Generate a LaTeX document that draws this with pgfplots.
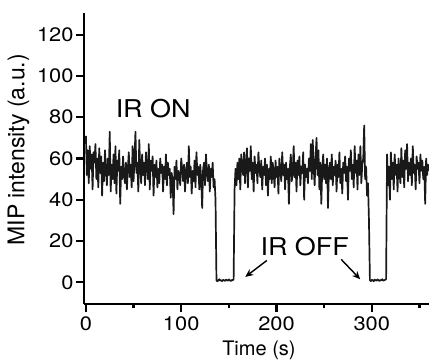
\documentclass[border=0pt]{standalone}
\usepackage{fontspec}
\setmainfont[FakeStretch=1.12]{TeX Gyre Heros}
\newfontfamily\plainsans{TeX Gyre Heros}
\newfontfamily\annsans[FakeStretch=1.1]{TeX Gyre Heros}
\newcommand{\tkfont}{\fontsize{19.5}{22}\selectfont}
\usepackage{pgfplots}
\pgfplotsset{compat=1.18}
\usetikzlibrary{arrows.meta}
\begin{document}
\begin{tikzpicture}
\begin{axis}[
 scale only axis, width=345pt, height=291pt,
 xmin=-2, xmax=360, ymin=-10.5, ymax=130.5,
 axis lines=left, axis line style={-, line width=2.4pt},
 xtick={0,100,200,300}, minor xtick={50,150,250,350},
 ytick={0,20,...,120},
 tick align=outside, major tick length=8pt, minor tick length=4.5pt,
 every tick/.append style={black, line width=2.2pt},
 /pgf/number format/assume math mode=true,
 xticklabel={\tkfont\pgfmathprintnumber{\tick}},
 yticklabel={\tkfont\pgfmathprintnumber{\tick}},
 tick label style={font=\tkfont},
 xticklabel style={yshift=-1pt},
 yticklabel style={xshift=1pt},
 xlabel={Time (s)}, ylabel={MIP intensity (a.u.)},
 xlabel style={font=\plainsans\fontsize{20}{23}\selectfont, at={(axis description cs:0.507,-0.16)}, anchor=center},
 ylabel style={font=\plainsans\fontsize{23}{26}\selectfont, at={(axis description cs:-0.19,0.53)}, anchor=center},
 clip=false,
]
\addplot[black!90, line width=1.7pt, line join=round] coordinates {
(0,71)(1,52)(2,64)(3,48)(4,66)(5,55)(6,62)(7,45)(8,63)(9,58)
(10,67)(11,50)(12,60)(13,46)(14,65)(15,53)(16,61)(17,42)(18,58)(19,49)
(20,64)(21,55)(22,47)(23,60)(24,52)(25,73)(26,44)(27,57)(28,50)(29,62)
(30,48)(31,66)(32,43)(33,59)(34,54)(35,64)(36,38)(37,56)(38,50)(39,61)
(40,52)(41,48)(42,58)(43,45)(44,55)(45,63)(46,51)(47,57)(48,46)(49,66)
(50,49)(51,60)(52,73)(53,53)(54,58)(55,44)(56,69)(57,55)(58,48)(59,62)
(60,52)(61,58)(62,47)(63,63)(64,56)(65,50)(66,67)(67,45)(68,59)(69,54)
(70,61)(71,42)(72,57)(73,51)(74,59)(75,46)(76,55)(77,48)(78,60)(79,53)
(80,57)(81,44)(82,56)(83,50)(84,62)(85,47)(86,58)(87,52)(88,55)(89,41)
(90,53)(91,49)(92,33)(93,56)(94,50)(95,59)(96,45)(97,54)(98,52)(99,47)
(100,60)(101,55)(102,49)(103,57)(104,44)(105,53)(106,58)(107,48)(108,66)(109,51)
(110,56)(111,43)(112,54)(113,49)(114,59)(115,46)(116,63)(117,52)(118,56)(119,45)
(120,57)(121,50)(122,36)(123,55)(124,58)(125,47)(126,62)(127,53)(128,49)(129,57)
(130,44)(131,55)(132,51)(133,58)(134,46)(135,50)(136,40)(137,1)(138,0.5)(139,1)
(140,1.5)(141,0.8)(142,1)(143,0.6)(144,1.2)(145,1)(146,0.7)(147,1.3)(148,1)(149,0.8)
(150,1.4)(151,1)(152,0.6)(153,1.1)(154,1)(155,1.5)(156,45)(157,55)(158,47)(159,58)
(160,50)(161,60)(162,45)(163,62)(164,56)(165,52)(166,63)(167,48)(168,57)(169,65)
(170,46)(171,60)(172,54)(173,66)(174,50)(175,58)(176,44)(177,61)(178,53)(179,57)
(180,48)(181,63)(182,55)(183,51)(184,59)(185,45)(186,56)(187,52)(188,60)(189,47)
(190,57)(191,42)(192,55)(193,50)(194,61)(195,48)(196,58)(197,53)(198,46)(199,59)
(200,51)(201,56)(202,43)(203,60)(204,54)(205,49)(206,63)(207,52)(208,57)(209,45)
(210,58)(211,50)(212,55)(213,38)(214,56)(215,62)(216,49)(217,53)(218,66)(219,51)
(220,58)(221,44)(222,59)(223,52)(224,61)(225,47)(226,56)(227,53)(228,63)(229,40)
(230,57)(231,51)(232,55)(233,48)(234,60)(235,54)(236,67)(237,50)(238,69)(239,56)
(240,47)(241,61)(242,70)(243,52)(244,64)(245,45)(246,58)(247,38)(248,55)(249,62)
(250,50)(251,57)(252,48)(253,60)(254,36)(255,54)(256,58)(257,50)(258,62)(259,47)
(260,56)(261,52)(262,59)(263,44)(264,57)(265,51)(266,63)(267,48)(268,55)(269,43)
(270,58)(271,53)(272,61)(273,49)(274,56)(275,40)(276,60)(277,54)(278,64)(279,50)
(280,57)(281,46)(282,66)(283,53)(284,59)(285,45)(286,62)(287,52)(288,66)(289,48)
(290,57)(291,60)(292,76)(293,50)(294,56)(295,42)(296,48)(297,30)(298,1)(299,0.6)
(300,1.2)(301,1)(302,0.5)(303,1.3)(304,1)(305,0.8)(306,1.4)(307,1)(308,0.7)(309,1.1)
(310,1)(311,1.5)(312,0.8)(313,1)(314,1.2)(315,1.6)(316,62)(317,47)(318,56)(319,40)
(320,63)(321,50)(322,58)(323,45)(324,62)(325,52)(326,57)(327,44)(328,60)(329,54)
(330,48)(331,65)(332,51)(333,59)(334,46)(335,64)(336,55)(337,67)(338,49)(339,58)
(340,52)(341,60)(342,47)(343,66)(344,53)(345,57)(346,45)(347,61)(348,55)(349,58)
(350,48)(351,62)(352,54)(353,59)(354,50)(355,56)(356,38)(357,60)(358,52)(359,57)
(360,54)
};
\node[font=\annsans\fontsize{24.5}{28}\selectfont] at (axis cs:70.6,84.3) {IR ON};
\node[font=\annsans\fontsize{24.5}{28}\selectfont] at (axis cs:229.6,17.2) {IR OFF};
\draw[-{Stealth[length=8pt,width=7pt]}, line width=1.4pt] (axis cs:189.9,10.6) -- (axis cs:167.2,2.6);
\draw[-{Stealth[length=8pt,width=7pt]}, line width=1.4pt] (axis cs:267.9,11.1) -- (axis cs:287.8,1.5);
\coordinate (bl) at (rel axis cs:0,0);
\coordinate (tr) at (rel axis cs:1,1);
\end{axis}
\pgfresetboundingbox
\path ([shift={(-84pt,-56pt)}]bl) rectangle ([shift={(0pt,13pt)}]tr);
\end{tikzpicture}
\end{document}
